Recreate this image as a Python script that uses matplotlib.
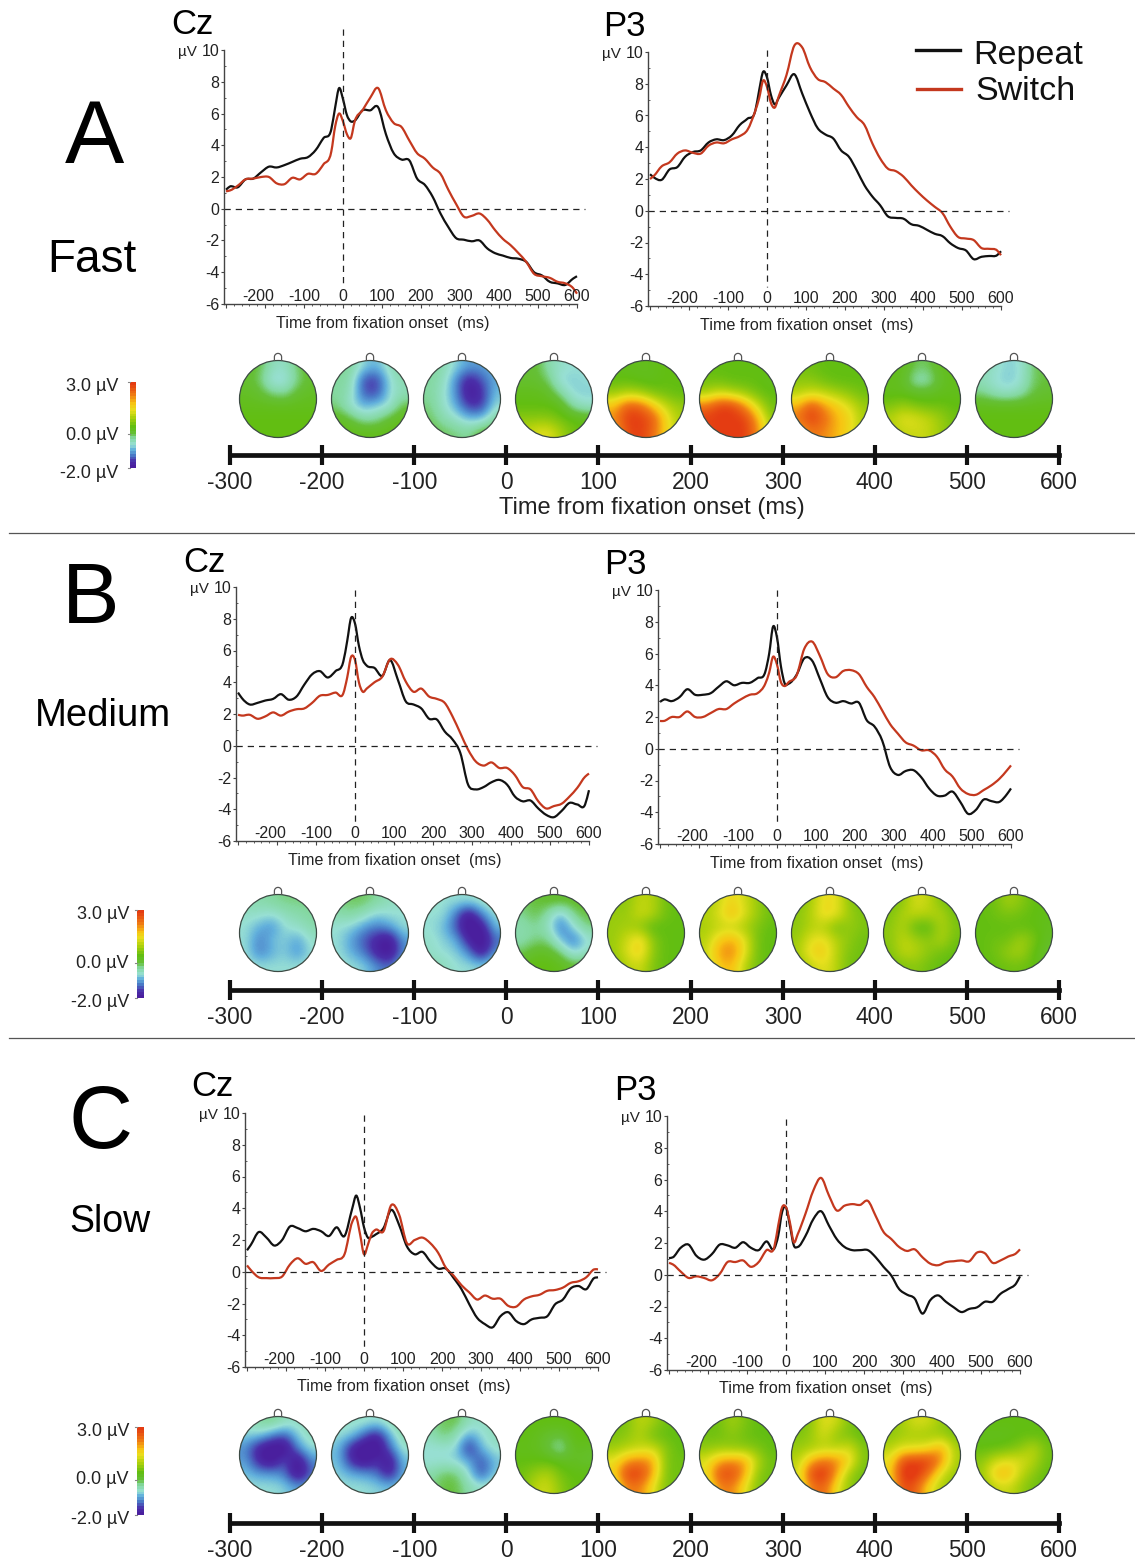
import numpy as np
import matplotlib
matplotlib.use('Agg')
import matplotlib.pyplot as plt
from matplotlib.colors import LinearSegmentedColormap
from matplotlib.patches import Circle, PathPatch
from matplotlib.path import Path
from matplotlib.transforms import ScaledTranslation

plt.rcParams['font.family'] = ['Liberation Sans', 'DejaVu Sans']

W, H = 1135, 1559

# sample times (ms) for all the ERP curves
times = [-300, -290, -270, -250, -230, -210, -190, -170, -150, -130, -110, -90, -70, -50,
         -30, -20, -10, 0, 10, 20, 30,
         50, 70, 90, 110, 130, 150, 170, 190, 210, 230, 250, 270, 290, 310, 330, 350, 370, 390,
         410, 430, 450, 470, 490, 510, 530, 550, 570, 590, 600]

fast_cz_repeat = [1.2, 1.4, 1.35, 1.85, 1.9, 2.3, 2.65, 2.6, 2.75, 2.95, 3.15, 3.25, 3.7, 4.45,
                  5.0, 6.4, 7.6, 6.9, 5.9, 5.5, 5.55,
                  6.2, 6.2, 6.4, 4.7, 3.5, 3.1, 3.05, 1.9, 1.5, 0.75, -0.3, -1.15, -1.85, -1.95, -2.05, -2.0,
                  -2.5, -2.8, -2.95, -3.1, -3.15, -3.35, -4.0, -4.2, -4.6, -4.7, -4.8, -4.4, -4.25]
fast_cz_switch = [1.1, 1.15, 1.45, 1.85, 1.9, 2.0, 2.0, 1.6, 1.55, 1.95, 1.85, 2.2, 2.2, 2.8,
                  3.6, 5.2, 6.0, 5.5, 4.7, 4.45, 5.5,
                  6.2, 7.0, 7.6, 6.2, 5.4, 5.15, 4.3, 3.5, 3.15, 2.6, 2.2, 1.2, 0.3, -0.5, -0.45, -0.3,
                  -0.7, -1.35, -1.9, -2.3, -2.8, -3.35, -4.1, -4.25, -4.35, -4.6, -4.7, -5.0, -5.35]
fast_p3_repeat = [2.3, 2.1, 1.95, 2.6, 2.75, 3.4, 3.7, 3.8, 4.3, 4.5, 4.45, 4.75, 5.4, 5.8,
                  6.3, 7.6, 8.75, 8.4, 7.3, 6.7, 7.1,
                  7.9, 8.6, 7.4, 6.2, 5.2, 4.8, 4.55, 3.8, 3.4, 2.55, 1.6, 0.9, 0.35, -0.35, -0.45, -0.5,
                  -0.85, -0.95, -1.2, -1.45, -1.6, -2.05, -2.35, -2.5, -3.05, -2.9, -2.85, -2.8, -2.55]
fast_p3_switch = [2.0, 2.2, 2.8, 3.05, 3.6, 3.8, 3.65, 3.6, 4.1, 4.3, 4.25, 4.5, 4.7, 5.1,
                  6.3, 7.1, 8.2, 7.8, 6.8, 6.5, 7.2,
                  8.55, 10.4, 10.3, 9.05, 8.3, 8.1, 7.7, 7.3, 6.55, 5.9, 5.4, 4.25, 3.3, 2.65, 2.5, 2.15,
                  1.6, 1.1, 0.65, 0.25, -0.15, -1.0, -1.65, -1.75, -1.85, -2.35, -2.4, -2.5, -2.8]
medium_cz_repeat = [3.35, 3.0, 2.6, 2.7, 2.85, 2.95, 3.25, 2.9, 3.1, 3.85, 4.5, 4.7, 4.3, 4.7,
                    5.3, 6.6, 8.05, 7.7, 6.3, 5.4, 5.05,
                    4.9, 4.4, 5.4, 4.15, 2.8, 2.6, 2.35, 1.7, 1.65, 0.9, 0.4, -0.45, -2.45, -2.75, -2.6, -2.3,
                    -2.15, -2.45, -3.2, -3.5, -3.45, -3.95, -4.35, -4.5, -4.1, -3.6, -3.7, -3.7, -2.8]
medium_cz_switch = [1.95, 1.9, 1.95, 1.7, 1.85, 2.1, 1.9, 2.15, 2.3, 2.35, 2.7, 3.15, 3.2, 3.35,
                    3.3, 4.3, 5.6, 5.4, 4.0, 3.4, 3.6,
                    4.0, 4.35, 5.45, 5.1, 4.05, 3.4, 3.6, 3.1, 2.95, 2.7, 1.85, 0.8, -0.25, -1.0, -1.25, -1.05,
                    -1.4, -1.4, -1.85, -2.6, -2.75, -3.5, -3.95, -3.8, -3.65, -3.2, -2.65, -1.95, -1.75]
medium_p3_repeat = [2.95, 3.1, 3.0, 3.25, 3.75, 3.4, 3.4, 3.5, 3.9, 4.25, 4.0, 4.15, 4.15, 4.45,
                    4.85, 6.0, 7.7, 7.0, 5.2, 4.1, 4.1,
                    4.65, 5.7, 5.55, 4.4, 3.25, 2.9, 3.0, 2.85, 2.9, 1.8, 1.4, 0.5, -1.15, -1.65, -1.4, -1.35,
                    -1.8, -2.5, -2.95, -2.95, -2.7, -3.35, -4.1, -3.85, -3.2, -3.3, -3.35, -2.85, -2.5]
medium_p3_switch = [1.75, 1.75, 2.0, 2.0, 2.35, 2.0, 2.0, 2.25, 2.5, 2.5, 2.85, 3.15, 3.4, 3.5,
                    4.1, 4.8, 5.8, 5.3, 4.2, 3.95, 4.2,
                    4.6, 6.3, 6.75, 5.85, 4.7, 4.5, 4.9, 4.95, 4.7, 3.9, 3.25, 2.4, 1.55, 0.95, 0.4, 0.2,
                    -0.1, -0.1, -0.5, -1.3, -1.75, -2.5, -2.85, -2.9, -2.6, -2.3, -1.9, -1.35, -1.05]
slow_cz_repeat = [1.35, 1.7, 2.5, 2.15, 1.65, 2.0, 2.85, 2.75, 2.55, 2.7, 2.55, 2.25, 2.8, 2.25,
                  4.0, 4.8, 4.0, 2.8, 2.15, 2.2, 2.35,
                  2.75, 3.9, 2.95, 1.6, 1.1, 1.25, 0.65, 0.2, 0.2, -0.4, -1.1, -2.05, -2.9, -3.3, -3.5, -2.8,
                  -2.55, -3.1, -3.3, -3.0, -2.9, -2.8, -2.05, -1.75, -1.05, -0.9, -1.1, -0.4, -0.35]
slow_cz_switch = [0.4, 0.1, -0.35, -0.4, -0.4, -0.3, 0.45, 0.85, 0.5, 0.6, 0.05, 0.45, 0.75, 1.1,
                  3.15, 3.45, 2.35, 1.1, 1.7, 2.4, 2.65,
                  2.55, 4.2, 3.6, 1.8, 2.0, 2.15, 1.8, 1.2, 0.25, -0.25, -0.85, -1.3, -1.75, -1.5, -1.7, -1.7,
                  -2.15, -2.2, -1.75, -1.55, -1.45, -1.2, -1.15, -1.0, -0.7, -0.6, -0.35, 0.15, 0.15]
slow_p3_repeat = [1.05, 1.1, 1.7, 1.9, 1.2, 0.95, 1.3, 1.9, 1.85, 1.7, 2.05, 1.7, 1.55, 2.1,
                  1.65, 2.45, 3.95, 4.25, 3.1, 1.85, 1.75,
                  2.45, 3.5, 4.0, 3.1, 2.25, 1.75, 1.55, 1.55, 1.55, 1.1, 0.5, -0.05, -0.9, -1.25, -1.5, -2.45,
                  -1.6, -1.3, -1.7, -2.05, -2.35, -2.15, -2.05, -1.7, -1.7, -1.2, -0.9, -0.55, -0.1]
slow_p3_switch = [0.75, 0.65, 0.2, -0.2, -0.1, -0.2, -0.35, 0.05, 0.8, 0.8, 0.9, 0.5, 0.8, 1.55,
                  1.75, 3.1, 4.25, 4.25, 3.3, 2.05, 2.55,
                  3.85, 5.3, 6.1, 5.0, 4.05, 4.35, 4.45, 4.4, 4.65, 3.7, 2.7, 2.25, 1.75, 1.5, 1.6, 1.1,
                  0.7, 0.6, 0.8, 0.85, 0.9, 0.85, 1.4, 1.35, 0.75, 0.9, 1.15, 1.35, 1.6]

fast_maps = [
    [[.1, 0, -.5, -.6, -.1, .1], [.1, -.1, -.8, -.8, -.2, .1], [.2, .1, -.2, -.3, .1, .2],
     [.3, .3, .3, .3, .3, .3], [.4, .4, .4, .4, .4, .4], [.4, .4, .4, .4, .4, .4]],
    [[-.2, -.3, -.8, -1.0, -.5, -.3], [-.3, -.4, -1.6, -1.7, -.7, -.4], [-.3, -.5, -1.5, -1.6, -.7, -.5],
     [-.2, -.7, -1.0, -.8, -.7, 0], [.2, 0, -.4, -.3, .1, .3], [.4, .3, .3, .3, .3, .4]],
    [[-.3, -.4, -.8, -1.1, -1.1, -1.0], [-.3, -.5, -1.2, -2.0, -1.5, -1.0], [-.3, -.6, -1.2, -2.1, -1.8, -.9],
     [-.2, -.6, -1.0, -1.7, -1.7, -.7], [-.1, -.4, -.6, -.9, -.9, -.3], [0, -.1, -.2, -.3, .1, .1]],
    [[0, .1, -.4, -.6, -.7, -.7], [.1, .1, -.1, -.8, -.8, -.7], [.3, .3, .2, -.3, -.8, -.8],
     [.4, .4, .4, .3, -.4, -.6], [.7, .7, .7, .5, .4, .3], [1.0, 1.3, 1.4, .9, .5, .4]],
    [[.3, .3, .3, .3, .4, .4], [.4, .4, .3, .3, .4, .4], [.8, 1.0, .9, .6, .5, .4],
     [1.8, 2.7, 2.6, 1.8, 1.1, .8], [2.2, 3.0, 3.0, 2.7, 1.6, .9], [1.8, 2.8, 3.0, 2.5, 1.6, 1.0]],
    [[.4, .4, .4, .4, .4, .4], [.5, .5, .4, .4, .4, .3], [.9, 1.2, 1.0, .8, .5, .4],
     [2.4, 3.0, 3.0, 2.2, 1.2, .5], [3.0, 3.0, 3.0, 3.0, 2.0, .7], [2.8, 3.0, 3.0, 3.0, 2.2, 1.0]],
    [[.5, .5, .4, .4, .4, .4], [.7, .7, .5, .4, .4, .4], [1.0, 1.2, 1.1, .9, .7, .5],
     [1.9, 2.8, 2.1, 1.7, 1.3, .8], [2.4, 3.0, 2.5, 1.9, 1.6, .9], [1.7, 2.4, 2.2, 1.9, 1.5, .9]],
    [[.3, .3, -.1, -.1, .3, .3], [.3, .2, -.5, -.4, .2, .3], [.3, .3, .2, .2, .3, .3],
     [.6, .8, .6, .5, .5, .4], [1.0, 1.4, 1.3, 1.1, .8, .5], [.9, 1.1, 1.2, 1.1, .8, .5]],
    [[-.4, -.6, -.8, -.7, -.1, 0], [-.5, -.7, -.85, -.7, -.1, 0], [-.2, -.5, -.6, -.4, 0, .1],
     [.3, .3, .3, .3, .3, .3], [.4, .4, .4, .4, .4, .4], [.4, .4, .4, .4, .4, .4]],
]
medium_maps = [
    [[-.4, -.4, -.3, -.2, -.2, -.2], [-.6, -.6, -.7, -.5, -.4, -.3], [-.7, -1.0, -1.2, -.7, -.6, -.4],
     [-.7, -1.3, -.9, -.8, -1.1, -.6], [-.7, -1.3, -1.0, -.8, -1.2, -.7], [-.6, -.7, -.7, -.7, -.7, -.6]],
    [[-.2, -.1, -.1, -.3, -.5, -.6], [-.4, -.3, -.5, -.8, -.7, -.7], [-.7, -.8, -1.1, -1.3, -1.1, -.7],
     [-.7, -1.1, -1.5, -1.9, -2.2, -1.1], [-.7, -1.0, -1.3, -1.9, -2.2, -1.2], [-.6, -.7, -.8, -1.2, -1.4, -.9]],
    [[-.6, -.7, -.7, -.7, -.6, -.5], [-.7, -.7, -1.3, -2.2, -1.2, -.7], [-.7, -.9, -1.5, -2.3, -2.1, -.9],
     [-.6, -.8, -1.0, -1.9, -2.3, -1.4], [-.6, -.7, -.8, -1.2, -2.1, -1.1], [-.4, -.5, -.7, -.7, -.8, -.6]],
    [[-.1, 0, .1, .1, .1, .1], [-.3, 0, -.4, -1.0, -.2, 0], [-.4, -.3, -.5, -1.4, -.7, -.2],
     [-.4, -.2, -.2, -.9, -1.4, -.7], [-.1, .2, .2, -.1, -.8, -.5], [.3, .4, .4, .3, .1, .1]],
    [[.7, .7, 1.1, 1.0, .5, .4], [.8, .8, 1.2, 1.0, .5, .4], [.8, .9, .7, .3, .4, .4],
     [.8, 1.2, 1.7, .7, .4, .4], [.8, 1.3, 1.7, .7, .4, .4], [.6, 1.0, 1.2, .6, .4, .4]],
    [[.8, 1.2, 1.6, 1.2, .8, .4], [1.0, 1.3, 1.9, 1.3, .8, .5], [.9, 1.1, 1.1, .9, .6, .4],
     [1.0, 1.7, 2.0, 1.4, .5, .4], [1.1, 2.1, 2.3, 1.4, .5, .4], [1.0, 1.7, 1.9, 1.0, .5, .4]],
    [[.6, .9, 1.5, 1.4, .7, .5], [.7, 1.0, 1.6, 1.4, .8, .6], [.7, 1.0, 1.0, .5, .8, .6],
     [.8, 1.4, 1.5, 1.0, .7, .5], [.9, 1.6, 1.7, 1.0, .6, .5], [.7, 1.1, 1.4, 1.0, .5, .5]],
    [[.5, .7, 1.3, 1.1, .6, .4], [.6, 1.0, 1.1, 1.0, 1.0, .5], [.7, 1.0, .3, .3, 1.0, .6],
     [.7, 1.1, .9, .7, 1.0, .5], [.6, 1.1, 1.0, .7, .5, .4], [.5, .6, .7, .5, .4, .4]],
    [[.4, .5, .9, .7, .4, .4], [.4, .5, .6, .5, .4, .3], [.4, .4, .4, .4, .4, .3],
     [.4, .5, .5, .9, .6, .2], [.4, .5, .8, .9, .4, .1], [.4, .4, .5, .5, .4, .2]],
]
slow_maps = [
    [[-.6, -.3, -.2, -.5, -.6, -.4], [-.8, -.8, -1.2, -1.5, -.8, -.5], [-1.2, -2.0, -2.3, -2.3, -1.2, -.7],
     [-1.1, -1.9, -2.2, -1.4, -2.3, -1.2], [-.9, -1.1, -1.1, -1.3, -2.3, -1.4], [-.7, -.7, -.7, -.8, -1.1, -1.0]],
    [[-.6, -.6, -.6, -.7, -.5, -.2], [-.7, -.8, -1.4, -2.0, -1.0, -.4], [-.9, -1.9, -2.3, -2.3, -1.4, -.6],
     [-.9, -1.8, -2.2, -1.7, -2.2, -.9], [-.8, -1.0, -1.1, -1.3, -2.0, -1.0], [-.7, -.7, -.7, -.8, -.9, -.8]],
    [[-.3, -.1, 0, -.5, -.6, -.5], [-.5, -.1, -.4, -1.1, -.7, -.5], [-.7, -.7, -.7, -1.9, -.9, -.6],
     [-.7, -.7, -.8, -1.0, -1.6, -.9], [-.4, -.1, -.1, -.7, -1.6, -.8], [-.3, 0, 0, -.4, -.6, -.4]],
    [[.4, .4, .4, .4, .4, .4], [.4, .3, .1, 0, .4, .4], [.3, .3, 0, -.5, .3, .2], [.4, .4, .4, .3, .2, .1],
     [.5, .8, 1.0, .5, .4, .4], [.5, 1.1, 1.2, .7, .4, .4]],
    [[.5, .6, 1.1, .9, .5, .4], [.6, .7, 1.0, .5, .4, .4], [.8, 1.0, 1.1, 1.2, .7, .4],
     [1.4, 2.1, 2.3, 2.1, .6, .5], [1.6, 3.0, 3.0, 2.0, .6, .5], [1.1, 2.3, 2.3, 1.4, .6, .5]],
    [[.5, .5, .9, .6, .4, .4], [.5, .5, .7, .5, .4, .4], [.7, .8, .7, .7, .6, .4],
     [1.3, 2.0, 2.2, 2.1, 1.0, .5], [1.4, 2.8, 2.9, 2.0, .7, .5], [1.1, 2.2, 2.3, 1.4, .6, .5]],
    [[.5, .7, 1.4, 1.2, .6, .4], [.6, .8, 1.3, .7, .6, .4], [.8, .9, 1.0, 1.0, 1.3, .6],
     [1.0, 2.0, 2.4, 2.3, 1.6, .6], [1.2, 2.9, 3.2, 2.0, .8, .5], [1.0, 2.3, 2.6, 1.4, .7, .5]],
    [[.7, .9, 1.3, 1.2, .8, .5], [.7, .9, .9, .8, .8, .6], [1.0, 1.3, 1.3, 1.5, 2.1, .9],
     [1.4, 2.9, 3.0, 3.0, 2.2, .9], [1.6, 3.2, 3.2, 2.4, 1.2, .8], [1.3, 2.9, 2.6, 1.5, .9, .7]],
    [[.4, .4, .4, .4, .4, .4], [.3, .3, .3, .4, .4, .4], [.4, .4, .5, .7, 1.1, .5],
     [.7, 1.2, 1.4, 1.3, 1.0, .5], [.8, 1.8, 1.9, 1.1, .7, .4], [.6, 1.1, 1.2, .8, .5, .4]],
]

timeline_ticks = [-300, -200, -100, 0, 100, 200, 300, 400, 500, 600]
erp_xticks = [-200, -100, 0, 100, 200, 300, 400, 500, 600]
erp_yticks = [-6, -4, -2, 0, 2, 4, 6, 8, 10]
cbar_ticks = [3.0, 0.0, -2.0]

cmap_stops = [(-2.0, '#4a1f9e'), (-1.7, '#4a30aa'), (-1.3, '#4a7cc8'), (-1.0, '#62b0dc'), (-0.7, '#98e0d4'),
              (-0.3, '#84d8a0'), (0.0, '#66c038'), (0.4, '#62be12'), (1.0, '#b4d20c'), (1.4, '#e8e01e'),
              (1.8, '#f8c412'), (2.3, '#f07c14'), (3.0, '#e43c12')]
vmin, vmax = -2.0, 3.0
eeg_cmap = LinearSegmentedColormap.from_list(
    'eeg', [((v - vmin) / (vmax - vmin), c) for v, c in cmap_stops])

BLACK = '#111111'
RED = '#c4381e'
GREY = '#444444'

fig = plt.figure(figsize=(W / 100, H / 100), dpi=100, facecolor='white')


def px_axes(left, top, right, bottom):
    return fig.add_axes([left / W, 1 - bottom / H, (right - left) / W, (bottom - top) / H])


# full figure layer in pixel coordinates for the texts, heads and colour bars
page = fig.add_axes([0, 0, 1, 1])
page.set_xlim(0, W)
page.set_ylim(H, 0)
page.axis('off')


def curve_path(x, y):
    # bezier segments that pass through every sample
    x = np.array(x, dtype=float)
    y = np.array(y, dtype=float)
    slope = np.gradient(y, x)
    verts = [(x[0], y[0])]
    codes = [Path.MOVETO]
    for i in range(len(x) - 1):
        dt = (x[i + 1] - x[i]) / 3
        verts += [(x[i] + dt, y[i] + slope[i] * dt), (x[i + 1] - dt, y[i + 1] - slope[i + 1] * dt),
                  (x[i + 1], y[i + 1])]
        codes += [Path.CURVE4] * 3
    return Path(verts, codes)


def plot_erp(x_axis, x_zero, y_top, y_bot, vline_top, label, label_x, label_y, repeat, switch):
    px_per_ms = 0.39
    ax = px_axes(x_axis, y_top, x_zero + 600 * px_per_ms, y_bot)
    ax.patch.set_alpha(0)
    ax.set_xlim((x_axis - x_zero) / px_per_ms, 600)
    ax.set_ylim(-6, 10)
    for s in ['top', 'right']:
        ax.spines[s].set_visible(False)
    for s in ['left', 'bottom']:
        ax.spines[s].set_color(GREY)
        ax.spines[s].set_linewidth(1.0)
    ax.set_xticks([-300] + erp_xticks)
    ax.set_xticklabels([''] + [str(t) for t in erp_xticks])
    ax.set_xticks(np.arange(-300, 601, 20), minor=True)
    ax.set_yticks(erp_yticks)
    ax.set_yticklabels([str(t) for t in erp_yticks])
    ax.set_yticks(np.arange(-6, 11, 1), minor=True)
    ax.tick_params(axis='x', which='major', length=3, width=0.8, color=GREY, pad=-14,
                   labelsize=11.5, labelcolor='#222222')
    ax.tick_params(axis='x', which='minor', length=1.5, width=0.6, color=GREY)
    ax.tick_params(axis='y', which='major', length=2.5, width=0.8, color=GREY, pad=1,
                   labelsize=11.5, labelcolor='#222222')
    ax.tick_params(axis='y', which='minor', length=1.5, width=0.6, color=GREY, direction='in')
    # -200 label sits a little left of its tick in the original
    shift = ScaledTranslation(-5 / 72, 0, fig.dpi_scale_trans)
    lab = ax.get_xticklabels()[1]
    lab.set_transform(lab.get_transform() + shift)

    ax.plot([ax.get_xlim()[0], 620], [0, 0], color='#222222', lw=0.9, dashes=(5, 4), clip_on=False)
    ax.plot([0, 0], [vline_top, -4.8], color='#222222', lw=0.9, dashes=(5, 4), clip_on=False)
    for values, col in [(repeat, BLACK), (switch, RED)]:
        ax.add_patch(PathPatch(curve_path(times, values), fc='none', ec=col, lw=1.6,
                               clip_on=False, joinstyle='round'))

    page.text(label_x, label_y + 2, label, fontsize=25, ha='left', va='center', color='black')
    page.text(x_axis - 46, y_top + 2, 'µV', fontsize=11, ha='left', va='center', color='#222222')
    page.text(x_zero + 40, y_bot + 19, 'Time from fixation onset  (ms)', fontsize=11.6,
              ha='center', va='center', color='#222222')


def plot_heads(maps, y_center):
    radius = 38.5
    for i, grid in enumerate(maps):
        cx = 278 + 92 * i
        im = page.imshow(np.array(grid), cmap=eeg_cmap, vmin=vmin, vmax=vmax, interpolation='bicubic',
                         extent=(cx - radius, cx + radius, y_center + radius, y_center - radius),
                         aspect='auto', zorder=2)
        clip = Circle((cx, y_center), radius, transform=page.transData)
        im.set_clip_path(clip)
        page.add_patch(Circle((cx, y_center), radius, fc='none', ec='#3c4a44', lw=0.9, zorder=3))
        # nose
        a = np.linspace(0, np.pi, 20)
        nx = np.r_[cx - 3.6, cx + 3.6 * np.cos(a[::-1]), cx + 3.6]
        ny = np.r_[y_center - radius, y_center - radius - 3.5 - 3.6 * np.sin(a[::-1]), y_center - radius]
        page.plot(nx, ny, color='#555555', lw=0.9, zorder=3)
    page.set_xlim(0, W)
    page.set_ylim(H, 0)


def plot_cbar(x0, x1, y3, y_low, label_right, label_ys):
    vals = np.linspace(vmax, vmin, 30).reshape(-1, 1)
    page.imshow(vals, cmap=eeg_cmap, vmin=vmin, vmax=vmax, interpolation='nearest',
                extent=(x0, x1, y_low, y3), aspect='auto', zorder=2)
    for v, ly in zip(cbar_ticks, label_ys):
        page.text(label_right, ly, '%.1f µV' % v, fontsize=13, ha='right', va='center', color='#222222')
        ty = y3 + (vmax - v) / (vmax - vmin) * (y_low - y3)
        page.plot([x0 - 2, x0], [ty, ty], color='#888888', lw=0.8, zorder=2)
    page.set_xlim(0, W)
    page.set_ylim(H, 0)


def plot_timeline(y):
    ax = px_axes(230, y - 1, 1059, y)
    ax.patch.set_alpha(0)
    ax.set_xlim(-300, 600)
    ax.set_ylim(0, 1)
    ax.set_yticks([])
    for s in ['top', 'right', 'left']:
        ax.spines[s].set_visible(False)
    ax.spines['bottom'].set_linewidth(3.4)
    ax.spines['bottom'].set_color('#111111')
    ax.set_xticks(timeline_ticks)
    ax.set_xticklabels([str(t) for t in timeline_ticks])
    ax.tick_params(axis='x', direction='inout', length=15, width=3, color='#111111', pad=4,
                   labelsize=16.4, labelcolor='#222222')


# panel A
plot_erp(224, 343, 50, 304, 11.3, 'Cz', 171, 22, fast_cz_repeat, fast_cz_switch)
plot_erp(648, 767, 52, 306, 10.1, 'P3', 603, 24, fast_p3_repeat, fast_p3_switch)
plot_heads(fast_maps, 399)
plot_cbar(130, 136, 382, 468, 118, [386, 435, 473])
plot_timeline(455)

# panel B
plot_erp(236, 355, 587, 841, 9.8, 'Cz', 183, 560, medium_cz_repeat, medium_cz_switch)
plot_erp(658, 777, 590, 844, 10.0, 'P3', 604, 562, medium_p3_repeat, medium_p3_switch)
plot_heads(medium_maps, 933)
plot_cbar(137, 144, 910, 998, 129, [914, 963, 1002])
plot_timeline(990)

# panel C
plot_erp(245, 364, 1113, 1367, 9.9, 'Cz', 191, 1085, slow_cz_repeat, slow_cz_switch)
plot_erp(667, 786, 1116, 1370, 9.8, 'P3', 614, 1089, slow_p3_repeat, slow_p3_switch)
plot_heads(slow_maps, 1455)
plot_cbar(137, 144, 1427, 1515, 129, [1431, 1480, 1519])
plot_timeline(1523)

page.text(652, 508, 'Time from fixation onset (ms)', fontsize=17, ha='center', va='center', color='#222222')

# panel letters and speed labels
page.text(94, 140, 'A', fontsize=64, ha='center', va='center', color='black')
page.text(91, 601, 'B', fontsize=62, ha='center', va='center', color='black')
page.text(101, 1125, 'C', fontsize=64, ha='center', va='center', color='black')
page.text(92, 260, 'Fast', fontsize=33, ha='center', va='center', color='black')
page.text(103, 716, 'Medium', fontsize=27.5, ha='center', va='center', color='black')
page.text(110, 1222, 'Slow', fontsize=27, ha='center', va='center', color='black')

# legend
page.plot([916, 960], [50, 50], color=BLACK, lw=2.4)
page.plot([917, 961], [89, 89], color=RED, lw=2.4)
page.text(973, 55, 'Repeat', fontsize=24.5, ha='left', va='center', color='#111111')
page.text(975, 91, 'Switch', fontsize=24.5, ha='left', va='center', color='#111111')

# panel separators
page.plot([9, W], [533, 533], color='#555555', lw=0.9)
page.plot([9, W], [1038, 1038], color='#555555', lw=0.9)

page.set_xlim(0, W)
page.set_ylim(H, 0)

fig.savefig('out.png', dpi=100, facecolor='white')
